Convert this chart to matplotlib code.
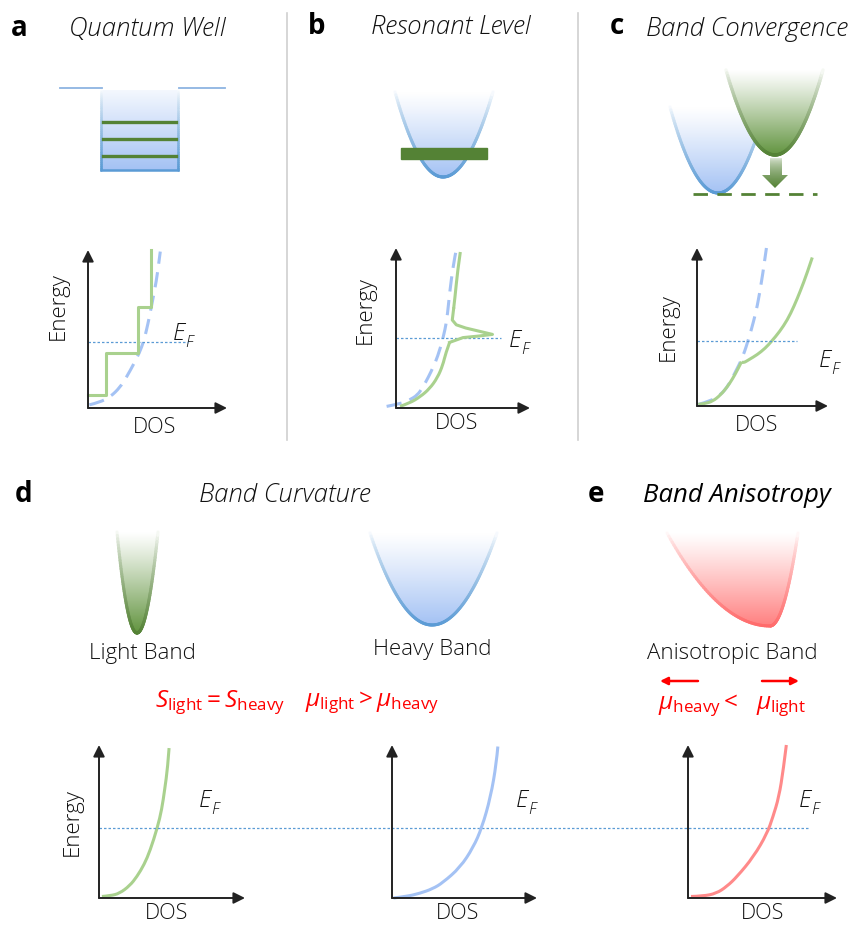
import numpy as np
import matplotlib.pyplot as plt
from matplotlib.path import Path
from matplotlib.patches import PathPatch, Polygon, Rectangle
from matplotlib.collections import LineCollection
from matplotlib.colors import to_rgb

# ------------------- DATA (DOS curves, fractions of axis length) -------------------
# a: quantum well
qw_step_x = [0.0, 0.13, 0.13, 0.36, 0.36, 0.45, 0.45]
qw_step_y = [0.08, 0.08, 0.35, 0.35, 0.64, 0.64, 1.0]
qw_bulk_x = [0.01, 0.08, 0.16, 0.23, 0.28, 0.33, 0.37, 0.40, 0.42, 0.44, 0.46, 0.48, 0.50, 0.52]
qw_bulk_y = [0.02, 0.035, 0.07, 0.13, 0.20, 0.28, 0.35, 0.42, 0.49, 0.57, 0.66, 0.75, 0.85, 0.99]
qw_ef = 0.42

# b: resonant level (lower branch, peak, upper branch)
rl_low_x = [0.03, 0.10, 0.18, 0.25, 0.31, 0.35, 0.37, 0.40]
rl_low_y = [0.01, 0.03, 0.07, 0.12, 0.19, 0.27, 0.34, 0.41]
rl_peak_x = [0.40, 0.50, 0.62, 0.72, 0.62, 0.52, 0.45, 0.42, 0.43]
rl_peak_y = [0.41, 0.44, 0.45, 0.46, 0.48, 0.50, 0.52, 0.55, 0.62]
rl_up_x = [0.43, 0.44, 0.46, 0.48]
rl_up_y = [0.62, 0.69, 0.86, 0.975]
rl_bulk_x = [-0.07, 0.05, 0.10, 0.16, 0.20, 0.24, 0.28, 0.31, 0.35, 0.38, 0.40, 0.43, 0.45]
rl_bulk_y = [0.01, 0.03, 0.05, 0.08, 0.13, 0.19, 0.26, 0.32, 0.43, 0.55, 0.72, 0.91, 0.99]
rl_ef = 0.44

# c: band convergence (first band, then both bands)
bc_low_x = [0.01, 0.06, 0.12, 0.18, 0.23, 0.27, 0.31, 0.34]
bc_low_y = [0.01, 0.015, 0.03, 0.07, 0.12, 0.17, 0.23, 0.28]
bc_high_x = [0.34, 0.35, 0.40, 0.46, 0.52, 0.57, 0.63, 0.69, 0.74, 0.79, 0.84, 0.88]
bc_high_y = [0.28, 0.27, 0.295, 0.325, 0.365, 0.41, 0.47, 0.545, 0.63, 0.73, 0.84, 0.94]
bc_bulk_x = [0.01, 0.10, 0.18, 0.24, 0.29, 0.35, 0.40, 0.43, 0.46, 0.50, 0.53]
bc_bulk_y = [0.01, 0.03, 0.07, 0.13, 0.21, 0.31, 0.44, 0.53, 0.63, 0.82, 1.0]
bc_ef = 0.41

# d / e: light, heavy, anisotropic
light_x = [0.02, 0.08, 0.14, 0.21, 0.26, 0.31, 0.35, 0.40, 0.43, 0.45, 0.47, 0.48]
light_y = [0.01, 0.015, 0.03, 0.08, 0.14, 0.22, 0.31, 0.46, 0.58, 0.71, 0.85, 0.98]
heavy_x = [0.01, 0.10, 0.19, 0.28, 0.35, 0.47, 0.56, 0.62, 0.68, 0.72, 0.73]
heavy_y = [0.0, 0.01, 0.03, 0.06, 0.10, 0.20, 0.33, 0.46, 0.66, 0.88, 0.99]
aniso_x = [0.02, 0.10, 0.19, 0.26, 0.33, 0.44, 0.53, 0.57, 0.61, 0.64, 0.66]
aniso_y = [0.01, 0.012, 0.03, 0.075, 0.14, 0.27, 0.42, 0.53, 0.66, 0.84, 1.0]
de_ef = 0.46

# quantum well levels (pixel rows)
well_levels = [122, 139, 156]

# ------------------- STYLE -------------------
W, H = 853, 925
BLUE = '#5b9bd5'
BLUE_FILL = '#a4c2f4'
BLUE_DOS = '#a4c2f4'
GREEN_DARK = '#548235'
GREEN_FILL = '#62943f'
GREEN_DOS = '#a9d18e'
RED_EDGE = '#ff6b6b'
RED_FILL = '#ff8080'
RED_DOS = '#ff8a8a'
RED = '#ff0000'
AXIS = '#222222'
TXT = '#111111'

plt.rcParams['font.family'] = ['Open Sans', 'DejaVu Sans']
plt.rcParams['mathtext.fontset'] = 'custom'
plt.rcParams['mathtext.rm'] = 'Open Sans'
plt.rcParams['mathtext.it'] = 'Open Sans:italic'

fig = plt.figure(figsize=(W / 100, H / 100), dpi=100)
ax = fig.add_axes([0, 0, 1, 1])
ax.set_xlim(0, W)
ax.set_ylim(H, 0)
ax.set_autoscale_on(False)
ax.axis('off')


def blend(color, t):
    c = np.array(to_rgb(color))
    t = np.clip(np.asarray(t, float), 0, 1)[..., None]
    return (1 - t) * np.ones(3) + t * c


def ramp_img(color, t0=0.0, n=256, power=1.0):
    t = t0 + (1 - t0) * np.linspace(0, 1, n) ** power
    return blend(color, t)[:, None, :]


def gradient_line(pts, yt, yb, color, lw, power=0.7, z=3):
    pts = np.asarray(pts)
    segs = np.stack([pts[:-1], pts[1:]], axis=1)
    t = ((segs[:, :, 1].mean(axis=1) - yt) / (yb - yt)) ** power
    lc = LineCollection(segs, colors=blend(color, t), linewidths=lw, capstyle='round', zorder=z)
    ax.add_collection(lc)


def band(xl, xb, xr, yt, yb, fill, edge, lw=2.2, z=2):
    verts = [(xl, yt), ((xl + xb) / 2, yb), (xb, yb), ((xb + xr) / 2, yb), (xr, yt)]
    codes = [Path.MOVETO, Path.CURVE3, Path.CURVE3, Path.CURVE3, Path.CURVE3]
    outline = Path(verts, codes)
    closed = Path(verts + [(xl, yt)], codes + [Path.CLOSEPOLY])
    clip = PathPatch(closed, fc='none', ec='none', transform=ax.transData)
    ax.add_patch(clip)
    im = ax.imshow(ramp_img(fill, power=1.1), extent=(xl, xr, yb, yt), aspect='auto',
                   interpolation='bilinear', zorder=z)
    im.set_clip_path(clip)
    pts = np.vstack([bez(np.linspace(0, 1, 60)) for bez, _ in outline.iter_bezier()])
    gradient_line(pts, yt, yb, edge, lw, z=z + 0.5)


def smooth(a, x, y, **kw):
    # quadratic B-spline through the read points, drawn as a Path
    p = np.column_stack([x, y])
    verts = [p[0]]
    codes = [Path.MOVETO]
    for i in range(1, len(p) - 1):
        end = p[i + 1] if i == len(p) - 2 else (p[i] + p[i + 1]) / 2
        verts += [p[i], end]
        codes += [Path.CURVE3, Path.CURVE3]
    if len(p) == 2:
        verts.append(p[1])
        codes.append(Path.LINETO)
    patch = PathPatch(Path(verts, codes), fc='none', clip_on=False, **kw)
    a.add_patch(patch)


# ------------------- SEPARATORS -------------------
for xs in [287, 578]:
    ax.plot([xs, xs], [13, 440], color='#d0d0d0', lw=1.2)

# ------------------- TITLES -------------------
title_kw = dict(fontsize=18.5, style='italic', fontweight='light', ha='center', va='center', color=TXT)
letter_kw = dict(fontsize=20, fontweight='bold', ha='center', va='center', color='black')
ax.text(19, 29, 'a', **letter_kw)
ax.text(147, 30, 'Quantum Well', **title_kw)
ax.text(317, 27, 'b', **letter_kw)
ax.text(451, 28, 'Resonant Level', **title_kw)
ax.text(617, 27, 'c', **letter_kw)
ax.text(747, 30, 'Band Convergence', **title_kw)
ax.text(24, 494, 'd', **letter_kw)
ax.text(285, 495, 'Band Curvature', **title_kw)
ax.text(596, 495, 'e', **letter_kw)
ax.text(737, 496, 'Band Anisotropy', **dict(title_kw, fontweight='normal', color='black'))

# ------------------- a: quantum well sketch -------------------
ax.plot([60, 102], [88, 88], color='#8db4e2', lw=1.3)
ax.plot([179, 225], [88, 88], color='#8db4e2', lw=1.3)
ax.imshow(ramp_img(BLUE_FILL, t0=0.12), extent=(101, 178, 170, 90), aspect='auto',
          interpolation='bilinear', zorder=2)
yy = np.linspace(90, 170, 40)
gradient_line(np.column_stack([np.full_like(yy, 101), yy]), 90, 170, BLUE, 1.8)
gradient_line(np.column_stack([np.full_like(yy, 178), yy]), 90, 170, BLUE, 1.8)
ax.plot([101, 178], [170, 170], color=BLUE, lw=1.8, zorder=3)
for lev in well_levels:
    ax.plot([103, 176], [lev, lev], color=GREEN_DARK, lw=2.4, zorder=4)

# ------------------- b: resonant level sketch -------------------
band(395, 443, 493, 92, 177, BLUE_FILL, BLUE)
ax.add_patch(Rectangle((401, 148), 86, 11, color=GREEN_DARK, zorder=5))

# ------------------- c: band convergence sketch -------------------
band(670, 718, 766, 107, 193, BLUE_FILL, BLUE, z=2)
band(726, 775, 823, 70, 155, GREEN_FILL, GREEN_DARK, lw=2.4, z=4)
arrow = Polygon([(770, 158), (782, 158), (782, 175), (788, 175), (775, 188), (762, 175), (770, 175)],
                closed=True, fc='none', ec='none', transform=ax.transData)
ax.add_patch(arrow)
im = ax.imshow(ramp_img(GREEN_DARK, t0=0.15, power=0.6), extent=(762, 788, 188, 158), aspect='auto',
               interpolation='bilinear', zorder=5)
im.set_clip_path(arrow)
ax.plot([693, 817], [194, 194], color=GREEN_DARK, lw=2.0, dashes=(5.2, 3.4), zorder=5)

# ------------------- d / e: band sketches -------------------
band(117, 137, 158, 532, 633, GREEN_FILL, GREEN_DARK, lw=2.2)
band(370, 432, 497, 533, 625, BLUE_FILL, BLUE)
band(667, 770, 798, 533, 626, RED_FILL, RED_EDGE)

lab_kw = dict(fontsize=16, fontweight='light', ha='center', va='center', color=TXT)
ax.text(142, 654, 'Light Band', **lab_kw)
ax.text(432, 650, 'Heavy Band', **lab_kw)
ax.text(732, 654, 'Anisotropic Band', **lab_kw)

ax.text(220, 703, r'$S_{\rm light} = S_{\rm heavy}$', fontsize=17.5, color=RED, ha='center', va='center')
ax.text(372, 703, r'$\mu_{\rm light} > \mu_{\rm heavy}$', fontsize=17.5, color=RED, ha='center', va='center')
ax.text(732, 706, r'$\mu_{\rm heavy} <\ \ \mu_{\rm light}$', fontsize=17.5, color=RED, ha='center', va='center')
red_arrow = dict(arrowstyle='-|>', color=RED, lw=1.8, mutation_scale=11, shrinkA=0, shrinkB=0)
ax.annotate('', xy=(660, 681), xytext=(698, 681), arrowprops=red_arrow)
ax.annotate('', xy=(799, 681), xytext=(762, 681), arrowprops=red_arrow)


# ------------------- DOS PLOTS -------------------
def dos_axes(x0, y0, w, h):
    a = fig.add_axes([x0 / W, 1 - y0 / H, w / W, h / H])
    a.set_xlim(0, 1)
    a.set_ylim(0, 1)
    a.axis('off')
    for tip in [(1, 0), (0, 1)]:
        a.annotate('', xy=tip, xytext=(0, 0), xycoords='data',
                   arrowprops=dict(arrowstyle='-|>', color=AXIS, lw=1.4, mutation_scale=17,
                                   shrinkA=0, shrinkB=0))
    return a


def ef_label(x, y):
    e = ax.text(x, y, 'E', fontsize=17, style='italic', fontweight='light', ha='left', va='center',
                color=TXT)
    ax.annotate('F', xy=(1.0, 0.12), xycoords=e, fontsize=11.5, style='italic', fontweight='light',
                ha='left', va='center', color=TXT)


def dos_label(x, y):
    ax.text(x, y, 'DOS', fontsize=15.5, fontweight='light', ha='center', va='bottom', color=TXT)


def energy_label(x, y):
    ax.text(x, y, 'Energy', rotation=90, fontsize=16, fontweight='light', ha='center', va='center',
            color=TXT)


curve_kw = dict(lw=2.2, capstyle='butt')
dash_kw = dict(lw=2.2, ec=BLUE_DOS, linestyle=(0, (5, 2.8)), capstyle='butt')
ef_kw = dict(color=BLUE, lw=0.9, linestyle=(0, (2, 1.6)), clip_on=False)

# a
a1 = dos_axes(88, 408, 139, 158)
a1.plot([0, 0.72], [qw_ef, qw_ef], **ef_kw)
smooth(a1, qw_bulk_x, qw_bulk_y, **dash_kw)
a1.plot(qw_step_x, qw_step_y, color=GREEN_DOS, lw=2.2, clip_on=False)
ef_label(173, 334)
energy_label(58, 306)
dos_label(155, 438)

# b
a2 = dos_axes(396, 408, 134, 160)
a2.plot([0, 0.78], [rl_ef, rl_ef], **ef_kw)
smooth(a2, rl_bulk_x, rl_bulk_y, **dash_kw)
smooth(a2, rl_low_x, rl_low_y, ec=GREEN_DOS, **curve_kw)
a2.plot(rl_peak_x, rl_peak_y, color=GREEN_DOS, lw=2.2, clip_on=False, solid_joinstyle='round')
smooth(a2, rl_up_x, rl_up_y, ec=GREEN_DOS, **curve_kw)
ef_label(509, 341)
energy_label(365, 310)
dos_label(457, 434)

# c
a3 = dos_axes(697, 406, 131, 158)
a3.plot([0, 0.76], [bc_ef, bc_ef], **ef_kw)
smooth(a3, bc_bulk_x, bc_bulk_y, **dash_kw)
smooth(a3, bc_low_x, bc_low_y, ec=GREEN_DOS, **curve_kw)
smooth(a3, bc_high_x, bc_high_y, ec=GREEN_DOS, **curve_kw)
ef_label(819, 361)
energy_label(668, 327)
dos_label(757, 436)

# d light
a4 = dos_axes(99, 898, 146, 153)
a4.plot([0, 4.86], [de_ef, de_ef], **ef_kw)
smooth(a4, light_x, light_y, ec=GREEN_DOS, **curve_kw)
ef_label(199, 801)
energy_label(72, 822)
dos_label(167, 924)

# d heavy
a5 = dos_axes(392, 898, 145, 153)
smooth(a5, heavy_x, heavy_y, ec=BLUE_DOS, **curve_kw)
ef_label(516, 801)
dos_label(458, 924)

# e anisotropic
a6 = dos_axes(688, 898, 149, 153)
smooth(a6, aniso_x, aniso_y, ec=RED_DOS, **curve_kw)
ef_label(799, 801)
dos_label(763, 924)

fig.savefig('out.png', dpi=100)
